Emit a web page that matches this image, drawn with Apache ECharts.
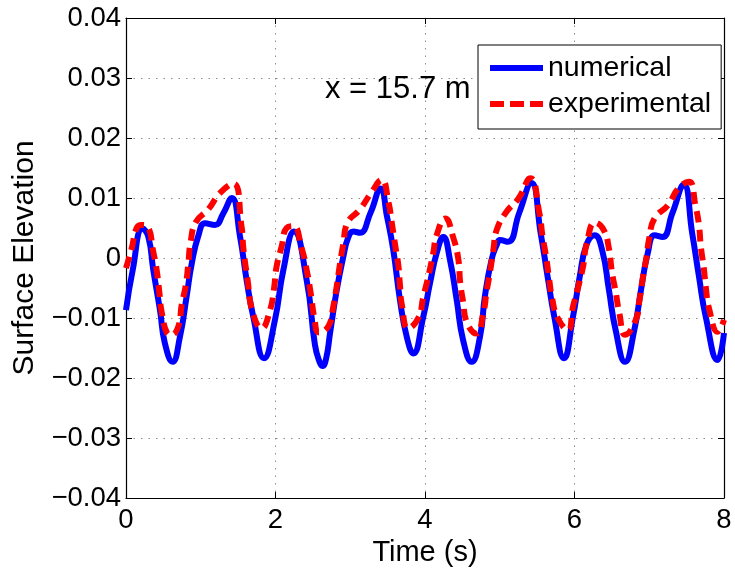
<!DOCTYPE html>
<html>
<head>
<meta charset="utf-8">
<script src="https://cdn.jsdelivr.net/npm/echarts@6/dist/echarts.min.js"></script>
<style>
  html, body { margin: 0; padding: 0; background: #fff; }
  #chart { width: 735px; height: 574px; }
</style>
</head>
<body>
<div id="chart"></div>
<script>
// Surface elevation time series at gauge x = 15.7 m
const numericalTime = [
  0.00, 0.09, 0.222, 0.298, 0.365, 0.455, 0.52, 0.623, 0.722, 0.81, 0.88, 0.97, 1.057, 1.19, 1.30, 1.414,
  1.525, 1.614, 1.703, 1.846, 1.993, 2.105, 2.248, 2.417, 2.528, 2.58, 2.631, 2.68, 2.73, 2.82, 2.907, 2.97,
  3.04, 3.13, 3.27, 3.407, 3.49, 3.576, 3.665, 3.755, 3.843, 3.977, 4.067, 4.156, 4.245, 4.334, 4.424, 4.51,
  4.624, 4.736, 4.80, 4.89, 4.96, 5.003, 5.11, 5.26, 5.422, 5.548, 5.64, 5.73, 5.859, 5.98, 6.07, 6.16,
  6.268, 6.37, 6.46, 6.55, 6.677, 6.80, 6.89, 6.98, 7.073, 7.177, 7.31, 7.46, 7.575, 7.665, 7.756, 7.915,
  8.00
];
const numericalElevation = [
  -0.0087, -0.0020, 0.0049, 0.0036, -0.0020, -0.0087, -0.0142, -0.0173, -0.0131, -0.0065, -0.0009, 0.0038, 0.0058, 0.0055, 0.0074, 0.0100,
  0.0036, -0.0037, -0.0098, -0.0167, -0.0103, -0.0020, 0.0044, -0.0037, -0.0145, -0.0170, -0.0180, -0.0166, -0.0125, -0.0053, 0.0002, 0.0033,
  0.0044, 0.0042, 0.0075, 0.0116, 0.0070, 0.0013, -0.0070, -0.0131, -0.0159, -0.0098, -0.0042, 0.0008, 0.0035, -0.0003, -0.0070, -0.0137,
  -0.0173, -0.0131, -0.0065, -0.0003, 0.0022, 0.0030, 0.0027, 0.0075, 0.0125, 0.0041, -0.0031, -0.0098, -0.0167, -0.0098, -0.0031, 0.0022,
  0.0038, 0.0013, -0.0053, -0.0120, -0.0173, -0.0120, -0.0053, 0.0008, 0.0038, 0.0035, 0.0075, 0.0122, 0.0041, -0.0031, -0.0098, -0.0170,
  -0.0125
];
const experimentalTime = [
  0.00, 0.076, 0.143, 0.205, 0.30, 0.356, 0.41, 0.445, 0.477, 0.553, 0.60, 0.70, 0.745, 0.80, 0.834, 0.865,
  0.936, 1.10, 1.256, 1.435, 1.546, 1.57, 1.625, 1.694, 1.815, 1.926, 1.98, 2.015, 2.082, 2.149, 2.238, 2.35,
  2.417, 2.47, 2.52, 2.58, 2.706, 2.773, 2.818, 2.86, 2.907, 2.96, 3.13, 3.287, 3.42, 3.51, 3.554, 3.60,
  3.643, 3.665, 3.69, 3.776, 3.91, 3.977, 4.044, 4.11, 4.156, 4.27, 4.38, 4.447, 4.47, 4.51, 4.556, 4.69,
  4.78, 4.824, 4.87, 4.914, 4.96, 5.09, 5.25, 5.41, 5.53, 5.57, 5.62, 5.66, 5.70, 5.776, 5.913, 5.98,
  6.05, 6.118, 6.16, 6.277, 6.39, 6.46, 6.50, 6.55, 6.60, 6.678, 6.82, 6.87, 6.913, 6.96, 7.00, 7.07,
  7.25, 7.39, 7.53, 7.62, 7.665, 7.69, 7.73, 7.756, 7.80, 7.915, 8.00
];
const experimentalElevation = [
  -0.0017, 0.0016, 0.0050, 0.0055, 0.0050, 0.0016, -0.0020, -0.0056, -0.0090, -0.0126, -0.0128, -0.0114, -0.0078, -0.0045, -0.0009, 0.0027,
  0.0060, 0.0081, 0.0108, 0.0124, 0.0052, 0.0016, -0.0035, -0.0090, -0.0117, -0.0087, -0.0051, -0.0014, 0.0019, 0.0050, 0.0053, 0.0016,
  -0.0020, -0.0058, -0.0100, -0.0124, -0.0114, -0.0081, -0.0048, -0.0012, 0.0024, 0.0058, 0.0081, 0.0110, 0.0130, 0.0094, 0.0060, 0.0022,
  -0.0012, -0.0045, -0.0078, -0.0117, -0.0100, -0.0065, -0.0031, 0.0008, 0.0038, 0.0066, 0.0033, -0.0003, -0.0040, -0.0073, -0.0106, -0.0126,
  -0.0092, -0.0056, -0.0023, 0.0013, 0.0047, 0.0077, 0.0099, 0.0133, 0.0075, 0.0038, 0.0002, -0.0034, -0.0067, -0.0100, -0.0120, -0.0081,
  -0.0048, -0.0012, 0.0022, 0.0059, 0.0047, 0.0016, -0.0023, -0.0056, -0.0092, -0.0128, -0.0103, -0.0070, -0.0034, -0.0001, 0.0033, 0.0066,
  0.0088, 0.0116, 0.0127, 0.0086, 0.0055, 0.0019, -0.0017, -0.0048, -0.0084, -0.0123, -0.0103
];
const seriesNames = ['numerical', 'experimental'];
const gaugeLabel = 'x = 15.7 m';
const xAxisTitle = 'Time (s)';
const yAxisTitle = 'Surface Elevation';

function pairs(ts, vs) { return ts.map((t, i) => [t, vs[i]]); }

const FONT = '"Liberation Sans", Arial, Helvetica, sans-serif';
const gridDots = { color: '#8c8c8c', width: 1, type: [1.5, 6] };

// legend swatches: a solid bar and a three-dash bar, 53 x 6
const SOLID_ICON = 'path://M0,0H53V6H0Z';
const DASH_ICON = 'path://M0,0H14V6H0Z M20,0H34V6H20Z M40,0H53V6H40Z';

function yLabel(v) {
  if (Math.abs(v) < 1e-9) return '0';
  const s = Math.abs(v).toFixed(2);
  return (v < 0 ? '\u2212' : '') + s;
}

const chart = echarts.init(document.getElementById('chart'), null, { renderer: 'canvas' });
chart.setOption({
  animation: false,
  backgroundColor: '#fff',
  grid: { left: 126, right: 11, top: 18, bottom: 76, containLabel: false },
  xAxis: [
    {
      type: 'value', min: 0, max: 8, interval: 2, position: 'bottom',
      name: xAxisTitle, nameLocation: 'middle', nameGap: 34,
      nameTextStyle: { fontFamily: FONT, fontSize: 29, color: '#000' },
      axisLine: { onZero: false, lineStyle: { color: '#000', width: 1.2 } },
      axisTick: { inside: true, length: 6, lineStyle: { color: '#000' } },
      axisLabel: { fontFamily: FONT, fontSize: 27.5, color: '#000', margin: 8 },
      splitLine: { show: true, lineStyle: gridDots }
    },
    {
      type: 'value', min: 0, max: 8, interval: 2, position: 'top',
      axisLine: { onZero: false, lineStyle: { color: '#000', width: 1.2 } },
      axisTick: { inside: true, length: 6, lineStyle: { color: '#000' } },
      axisLabel: { show: false }, splitLine: { show: false }
    }
  ],
  yAxis: [
    {
      type: 'value', min: -0.04, max: 0.04, interval: 0.01, position: 'left',
      name: yAxisTitle, nameLocation: 'middle', nameGap: 86, nameRotate: 90,
      nameTextStyle: { fontFamily: FONT, fontSize: 30, color: '#000' },
      axisLine: { onZero: false, lineStyle: { color: '#000', width: 1.2 } },
      axisTick: { inside: true, length: 6, lineStyle: { color: '#000' } },
      axisLabel: { fontFamily: FONT, fontSize: 27.5, color: '#000', margin: 5, formatter: yLabel },
      splitLine: { show: true, lineStyle: gridDots }
    },
    {
      type: 'value', min: -0.04, max: 0.04, interval: 0.01, position: 'right',
      axisLine: { onZero: false, lineStyle: { color: '#000', width: 1.2 } },
      axisTick: { inside: true, length: 6, lineStyle: { color: '#000' } },
      axisLabel: { show: false }, splitLine: { show: false }
    }
  ],
  legend: {
    data: [
      { name: seriesNames[0], icon: SOLID_ICON },
      { name: seriesNames[1], icon: DASH_ICON }
    ],
    orient: 'vertical',
    left: 478, top: 45,
    padding: [8, 10, 10, 12],
    itemGap: 6,
    itemWidth: 53, itemHeight: 6,
    symbolKeepAspect: false,
    backgroundColor: '#fff',
    borderColor: '#000', borderWidth: 1, borderRadius: 0,
    textStyle: { fontFamily: FONT, fontSize: 28.5, color: '#000', lineHeight: 30 }
  },
  graphic: [
    {
      type: 'text', left: 325, top: 74, z: 10,
      style: { text: gaugeLabel, font: '31px ' + FONT, fill: '#000' }
    }
  ],
  series: [
    {
      name: seriesNames[0], type: 'line', xAxisIndex: 0, yAxisIndex: 0,
      data: pairs(numericalTime, numericalElevation),
      showSymbol: false, symbol: 'none', smooth: 0.5,
      lineStyle: { color: '#0000ff', width: 6, cap: 'butt', join: 'round' },
      itemStyle: { color: '#0000ff' }
    },
    {
      name: seriesNames[1], type: 'line', xAxisIndex: 0, yAxisIndex: 0,
      data: pairs(experimentalTime, experimentalElevation),
      showSymbol: false, symbol: 'none', smooth: 0.5,
      lineStyle: { color: '#ff0000', width: 6, type: [12, 7], cap: 'butt' },
      itemStyle: { color: '#ff0000' }
    }
  ]
});
</script>
</body>
</html>
